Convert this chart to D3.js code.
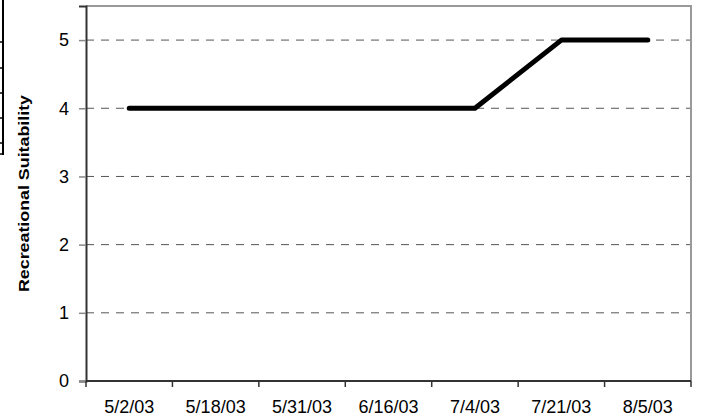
<!DOCTYPE html>
<html>
<head>
<meta charset="utf-8">
<script src="https://cdn.jsdelivr.net/npm/d3@7"></script>
<style>
  html, body { margin: 0; padding: 0; background: #fff; }
  svg { display: block; }
  text { font-family: Arial, "Liberation Sans", sans-serif; fill: #000; }
</style>
</head>
<body>
<svg id="chart" width="701" height="420"></svg>
<script>
const categories = ["5/2/03", "5/18/03", "5/31/03", "6/16/03", "7/4/03", "7/21/03", "8/5/03"];
const suitability = [4, 4, 4, 4, 4, 5, 5];
const yTicks = [0, 1, 2, 3, 4, 5];
const yTitle = "Recreational Suitability";
// decorative remnant of a cropped table at the far left edge
const edgeMarks = [42, 68, 93, 118, 143, 154];

const W = 701, H = 420;
const m = { left: 86, right: 10, top: 6, bottom: 39 };
const svg = d3.select("#chart");

const x = d3.scaleBand().domain(categories).range([m.left, W - m.right]).padding(0);
const y = d3.scaleLinear().domain([0, 5.5]).range([H - m.bottom, m.top]);

// left edge remnant
svg.append("line").attr("x1", 3).attr("x2", 3).attr("y1", 0).attr("y2", 155)
  .attr("stroke", "#000").attr("stroke-width", 2);
svg.selectAll(".edge").data(edgeMarks).enter().append("line")
  .attr("x1", 0).attr("x2", 4).attr("y1", d => d).attr("y2", d => d)
  .attr("stroke", "#000").attr("stroke-width", 1.5);

// gridlines
svg.append("g").selectAll("line").data(yTicks.filter(d => d > 0)).enter().append("line")
  .attr("x1", m.left).attr("x2", W - m.right)
  .attr("y1", d => y(d)).attr("y2", d => y(d))
  .attr("stroke", "#555").attr("stroke-width", 1).attr("stroke-dasharray", "8,7");

// top & right border
svg.append("path")
  .attr("d", `M${m.left},${m.top}H${W - m.right}V${H - m.bottom}`)
  .attr("fill", "none").attr("stroke", "#999").attr("stroke-width", 2);

// y axis
const yAxis = d3.axisLeft(y).tickValues(yTicks).tickSize(7).tickPadding(10).tickFormat(d3.format("d"));
const gy = svg.append("g").attr("transform", `translate(${m.left},0)`).call(yAxis);
gy.select(".domain").attr("stroke", "#333").attr("stroke-width", 2);
gy.selectAll(".tick line").attr("stroke", "#888").attr("stroke-width", 1.5);
gy.selectAll(".tick text").attr("font-size", 18).attr("font-family", "Arial, 'Liberation Sans', sans-serif").attr("fill", "#000");

// x axis
const gx = svg.append("g").attr("transform", `translate(0,${H - m.bottom})`);
gx.append("line").attr("x1", m.left).attr("x2", W - m.right).attr("y1", 0).attr("y2", 0)
  .attr("stroke", "#333").attr("stroke-width", 2);
const bounds = categories.map(c => x(c)).concat([x(categories[categories.length - 1]) + x.bandwidth()]);
gx.selectAll(".xt").data(bounds).enter().append("line")
  .attr("x1", d => d).attr("x2", d => d).attr("y1", 0).attr("y2", 6)
  .attr("stroke", "#333").attr("stroke-width", 1.5);
gx.selectAll(".xl").data(categories).enter().append("text")
  .attr("x", d => x(d) + x.bandwidth() / 2).attr("y", 32)
  .attr("text-anchor", "middle").attr("font-size", 18).text(d => d);

// y title
svg.append("text")
  .attr("transform", `translate(29,${(m.top + H - m.bottom) / 2}) rotate(-90)`)
  .attr("text-anchor", "middle").attr("font-size", 15).attr("font-weight", "bold")
  .attr("textLength", 197).attr("lengthAdjust", "spacingAndGlyphs")
  .text(yTitle);

// line
const line = d3.line().x((d, i) => x(categories[i]) + x.bandwidth() / 2).y(d => y(d));
svg.append("path").datum(suitability).attr("d", line)
  .attr("fill", "none").attr("stroke", "#000").attr("stroke-width", 5)
  .attr("stroke-linecap", "round").attr("stroke-linejoin", "round");
</script>
</body>
</html>
